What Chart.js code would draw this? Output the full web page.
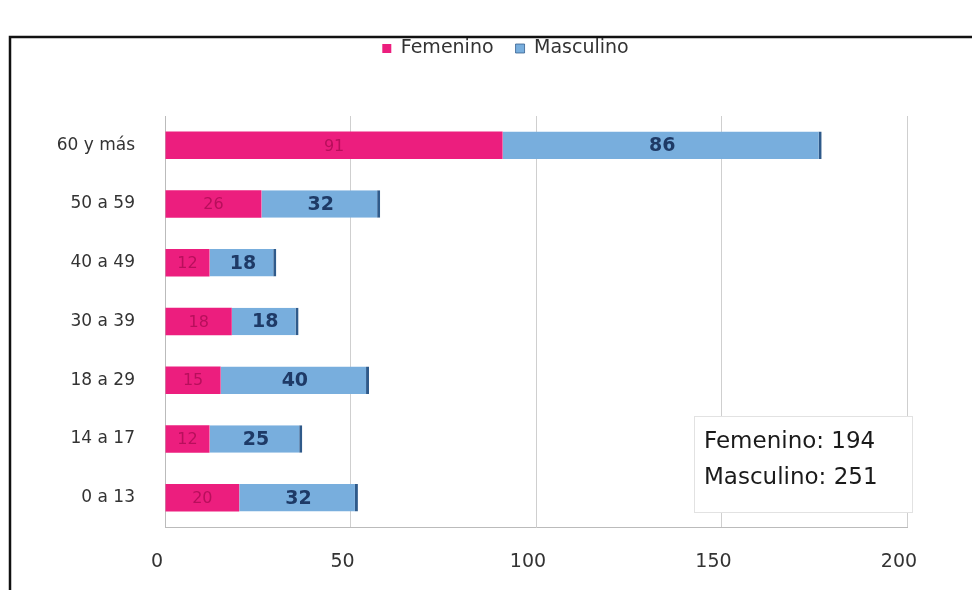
<!DOCTYPE html>
<html>
<head>
<meta charset="utf-8">
<script src="https://cdn.jsdelivr.net/npm/chart.js@4.4.1/dist/chart.umd.min.js"></script>
<style>
html,body{margin:0;padding:0;background:#fff;}
#wrap{width:972px;height:590px;position:relative;}
</style>
</head>
<body>
<div id="wrap"><canvas id="c" width="972" height="590"></canvas></div>
<script>
const categories = ['60 y más', '50 a 59', '40 a 49', '30 a 39', '18 a 29', '14 a 17', '0 a 13'];
const femenino = [91, 26, 12, 18, 15, 12, 20];
const masculino = [86, 32, 18, 18, 40, 25, 32];
const xTicks = [0, 50, 100, 150, 200];
const totalsText = ['Femenino: 194', 'Masculino: 251'];

const FONT = '"DejaVu Sans", Verdana, sans-serif';

const framePlugin = {
  id: 'frame',
  beforeInit(chart) {
    const lg = chart.legend;
    const orig = lg.fit;
    lg.fit = function () { orig.call(this); this.height += 48; };
  },
  afterLayout(chart) {
    const lg = chart.legend;
    lg.left += 52;
    lg.right += 52;
  },
  beforeDraw(chart) {
    const ctx = chart.ctx;
    ctx.save();
    ctx.fillStyle = '#fff';
    ctx.fillRect(0, 0, chart.width, chart.height);
    ctx.strokeStyle = '#111';
    ctx.lineWidth = 2.5;
    ctx.beginPath();
    ctx.moveTo(10, 590);
    ctx.lineTo(10, 37);
    ctx.lineTo(972, 37);
    ctx.stroke();
    ctx.restore();
  },
  afterDatasetsDraw(chart) {
    const ctx = chart.ctx;
    ctx.save();
    ctx.textAlign = 'center';
    ctx.textBaseline = 'middle';
    chart.data.datasets.forEach((ds, di) => {
      const meta = chart.getDatasetMeta(di);
      meta.data.forEach((bar, i) => {
        const x = (bar.x + bar.base) / 2;
        if (di === 0) {
          ctx.font = '16px ' + FONT;
          ctx.fillStyle = '#B80F5C';
        } else {
          ctx.font = 'bold 19px ' + FONT;
          ctx.fillStyle = '#1E3A66';
        }
        ctx.fillText(String(ds.data[i]), x, bar.y + 1);
      });
    });
    // totals box
    ctx.fillStyle = '#fff';
    ctx.strokeStyle = '#e2e2e2';
    ctx.lineWidth = 1;
    ctx.fillRect(694, 416, 218, 96);
    ctx.strokeRect(694.5, 416.5, 218, 96);
    ctx.fillStyle = '#1a1a1a';
    ctx.font = '23px ' + FONT;
    ctx.textAlign = 'left';
    ctx.fillText(totalsText[0], 704, 442);
    ctx.fillText(totalsText[1], 704, 478);
    ctx.restore();
  }
};

new Chart(document.getElementById('c'), {
  type: 'bar',
  data: {
    labels: categories,
    datasets: [
      { label: 'Femenino', data: femenino, backgroundColor: '#EC1E7E', borderWidth: 0, categoryPercentage: 0.9, barPercentage: 0.52 },
      { label: 'Masculino', data: masculino, backgroundColor: '#78AEDD', borderColor: '#2F5A8A',
        borderWidth: { top: 0, right: 3, bottom: 0, left: 0 }, borderSkipped: false,
        categoryPercentage: 0.9, barPercentage: 0.52 }
    ]
  },
  options: {
    responsive: false,
    animation: false,
    indexAxis: 'y',
    layout: { padding: { top: 17, right: 65, bottom: 6, left: 0 } },
    plugins: {
      legend: {
        position: 'top',
        align: 'center',
        labels: {
          boxWidth: 9, boxHeight: 9, padding: 22,
          color: '#333',
          font: { family: FONT, size: 19 }
        }
      },
      tooltip: { enabled: false }
    },
    scales: {
      x: {
        stacked: true,
        min: 0, max: 200,
        afterBuildTicks(scale) { scale.ticks = xTicks.map(v => ({ value: v })); },
        afterFit(scale) { scale.height = 57; },
        grid: { color: '#cfcfcf', drawTicks: false },
        border: { color: '#bbb' },
        ticks: { padding: 24, labelOffset: -8, color: '#333', font: { family: FONT, size: 19 } }
      },
      y: {
        stacked: true,
        afterFit(scale) { scale.width = 165; },
        grid: { display: false },
        border: { color: '#bbb' },
        ticks: { padding: 22, color: '#333', font: { family: FONT, size: 17 } }
      }
    }
  },
  plugins: [framePlugin]
});
</script>
</body>
</html>
